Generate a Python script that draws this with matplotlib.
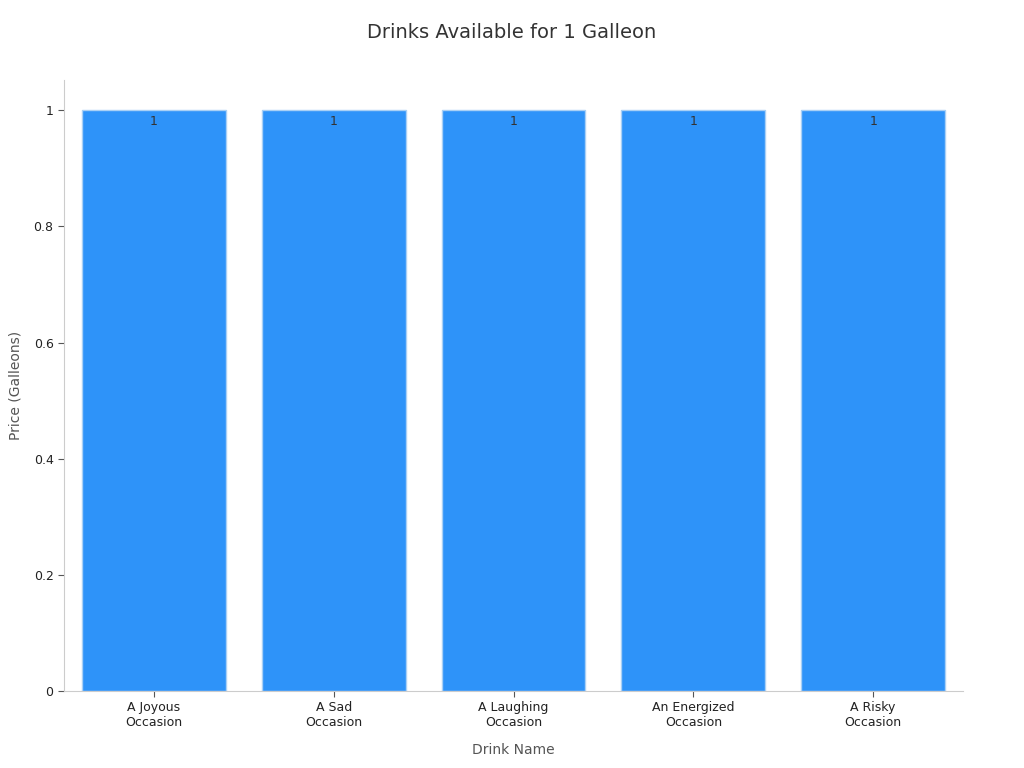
import matplotlib
matplotlib.use("Agg")
import matplotlib.pyplot as plt

# data
drinks = ["A Joyous\nOccasion", "A Sad\nOccasion", "A Laughing\nOccasion",
          "An Energized\nOccasion", "A Risky\nOccasion"]
prices = [1, 1, 1, 1, 1]
yticks = [0, 0.2, 0.4, 0.6, 0.8, 1]

fig = plt.figure(figsize=(10.24, 7.68), dpi=100)
ax = fig.add_axes([0.0625, 0.1003, 0.878, 0.7955])

bars = ax.bar(range(len(drinks)), prices, width=0.8, color="#2E93F9",
              edgecolor="#A9D0F5", linewidth=1)
for b, v in zip(bars, prices):
    ax.text(b.get_x() + b.get_width() / 2, v - 0.008, str(v), ha="center", va="top",
            fontsize=9, color="#333333")

ax.set_xlim(-0.5, len(drinks) - 0.5)
ax.set_ylim(0, 1.052)
ax.set_xticks(range(len(drinks)))
ax.set_xticklabels(drinks, fontsize=9)
ax.set_yticks(yticks)
ax.set_yticklabels([f"{t:g}" for t in yticks], fontsize=9)
ax.tick_params(colors="#555555", length=4)
for lab in ax.get_xticklabels() + ax.get_yticklabels():
    lab.set_color("#222222")

ax.spines["top"].set_visible(False)
ax.spines["right"].set_visible(False)
ax.spines["left"].set_color("#cccccc")
ax.spines["bottom"].set_color("#cccccc")

ax.set_xlabel("Drink Name", fontsize=10, color="#555555", labelpad=10)
ax.set_ylabel("Price (Galleons)", fontsize=10, color="#555555", labelpad=8)
fig.suptitle("Drinks Available for 1 Galleon", fontsize=14, color="#333333", y=0.97)

plt.savefig("out.png", dpi=100)
